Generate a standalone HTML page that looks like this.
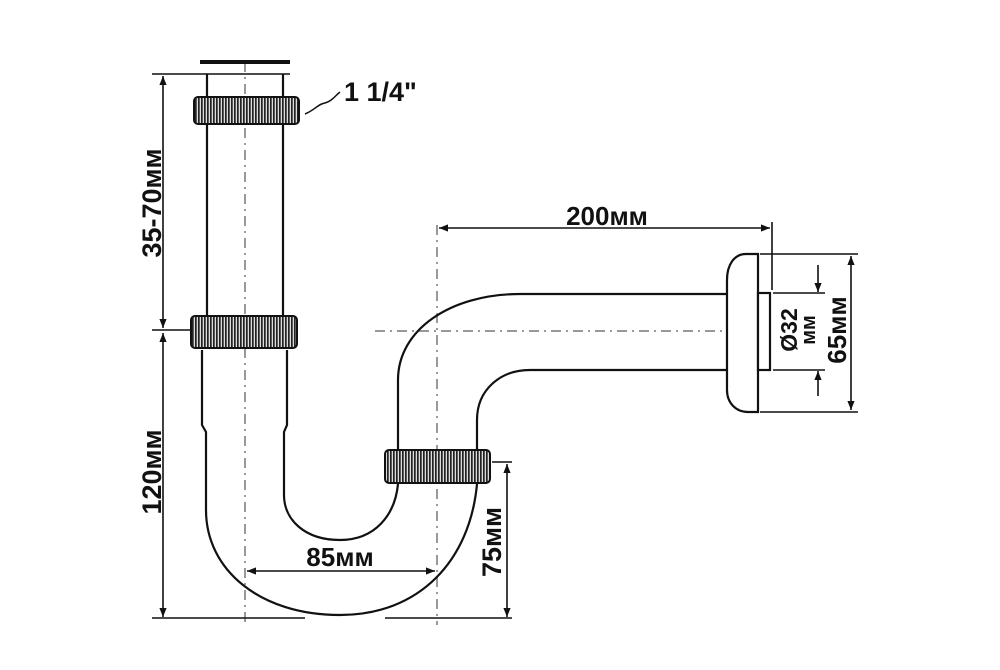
<!DOCTYPE html>
<html><head><meta charset="utf-8"><style>
html,body{margin:0;padding:0;background:#fff;}
svg{display:block;}
text{font-family:"Liberation Sans","DejaVu Sans",sans-serif;font-weight:bold;fill:#111;}
</style></head><body>
<svg width="1000" height="670" viewBox="0 0 1000 670" xmlns="http://www.w3.org/2000/svg">
<defs>
<pattern id="kn" width="3" height="10" patternUnits="userSpaceOnUse">
<rect width="3" height="10" fill="#ddd"/><rect width="1.7" height="10" fill="#222"/>
</pattern>
<marker id="ar" viewBox="0 0 10 10" refX="10" refY="5" markerWidth="9" markerHeight="9" orient="auto-start-reverse" markerUnits="userSpaceOnUse">
<path d="M0,1 L10,5 L0,9 Z" fill="#111"/></marker>
</defs>
<g stroke="#999" stroke-width="2" stroke-dasharray="10,5,2,5" fill="none">
<line x1="245" y1="62" x2="245" y2="625"/>
<line x1="437" y1="225" x2="437" y2="625"/>
<line x1="375" y1="331" x2="770" y2="331"/>
</g>
<g stroke="#111" stroke-width="2.2" fill="none">
<line x1="200" y1="62" x2="290" y2="62" stroke-width="4"/>
<line x1="152" y1="74" x2="290" y2="74" stroke-width="1.6"/>
<line x1="207" y1="74" x2="207" y2="318"/>
<line x1="283" y1="74" x2="283" y2="318"/>
<path d="M202,350 L202,425 L206,432 L206,510 C206,570 260,615 340,615 C420,615 470,560 477,484"/>
<path d="M287,350 L287,425 L284,432 L284,495 C284,520 305,540 340,540 C375,540 395,515 398,484"/>
<path d="M398,452 L398,380 C398,330 450,294 520,294 L727,294"/>
<path d="M477,452 L477,420 C477,390 500,370 530,370 L727,370"/>
<path d="M758,254 L746,254 C734,254 727,265 727,280 L727,390 C727,403 736,412 748,412 L758,412 Z" fill="#fff"/>
<rect x="758" y="293" width="12" height="77" fill="#fff"/>
<path d="M305,114 C315,110 318,104 325,103 C332,101 335,96 340,92" stroke-width="1.5"/>
</g>
<g stroke="#111" stroke-width="2">
<rect x="194" y="97" width="105" height="27" rx="4" fill="url(#kn)"/>
<rect x="191" y="316" width="106" height="32" rx="4" fill="url(#kn)"/>
<rect x="385" y="450" width="105" height="33" rx="4" fill="url(#kn)"/>
</g>
<g stroke="#111" stroke-width="1.6" fill="none">
<line x1="152" y1="330" x2="190" y2="330"/>
<line x1="163" y1="76" x2="163" y2="328" marker-start="url(#ar)" marker-end="url(#ar)"/>
<line x1="163" y1="333" x2="163" y2="617" marker-start="url(#ar)" marker-end="url(#ar)"/>
<line x1="152" y1="618" x2="305" y2="618"/>
<line x1="385" y1="618" x2="512" y2="618"/>
<line x1="247" y1="571" x2="435" y2="571" marker-start="url(#ar)" marker-end="url(#ar)"/>
<line x1="492" y1="462" x2="512" y2="462"/>
<line x1="507" y1="464" x2="507" y2="617" marker-start="url(#ar)" marker-end="url(#ar)"/>
<line x1="439" y1="228" x2="770" y2="228" marker-start="url(#ar)" marker-end="url(#ar)"/>
<line x1="772" y1="222" x2="772" y2="290"/>
<line x1="760" y1="254" x2="858" y2="254"/>
<line x1="760" y1="412" x2="858" y2="412"/>
<line x1="851" y1="256" x2="851" y2="410" marker-start="url(#ar)" marker-end="url(#ar)"/>
<line x1="773" y1="293" x2="825" y2="293"/>
<line x1="773" y1="370" x2="825" y2="370"/>
<line x1="818" y1="265" x2="818" y2="292" marker-end="url(#ar)"/>
<line x1="818" y1="396" x2="818" y2="371" marker-end="url(#ar)"/>
</g>
<text x="344" y="101" font-size="27">1 1/4"</text>
<text x="607" y="225" font-size="26" text-anchor="middle">200мм</text>
<text x="340" y="566" font-size="26" text-anchor="middle">85мм</text>
<text transform="translate(161,203) rotate(-90)" font-size="27" text-anchor="middle">35-70мм</text>
<text transform="translate(161,472) rotate(-90)" font-size="27" text-anchor="middle">120мм</text>
<text transform="translate(501,542) rotate(-90)" font-size="27" text-anchor="middle">75мм</text>
<text transform="translate(846,330) rotate(-90)" font-size="26" text-anchor="middle">65мм</text>
<text transform="translate(797,330) rotate(-90)" font-size="23" text-anchor="middle">Ø32</text>
<text transform="translate(815,330) rotate(-90)" font-size="20" text-anchor="middle">мм</text>
</svg>
</body></html>
